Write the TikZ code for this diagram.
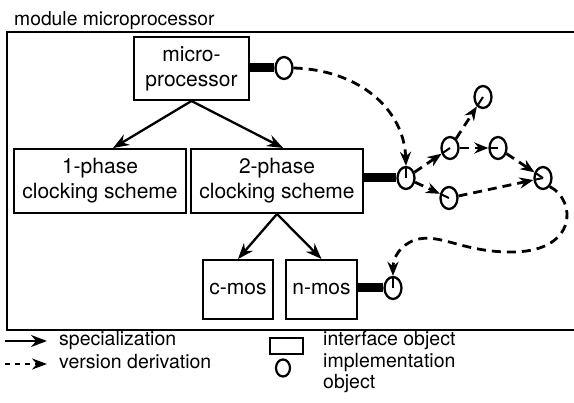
\documentclass[tikz,border=0pt]{standalone}
\usepackage{fontspec}
\setmainfont{TeX Gyre Heros}
\usetikzlibrary{arrows.meta,shapes.geometric,calc}
\begin{document}
\begin{tikzpicture}[x=1pt,y=-1pt,
  box/.style={draw,line width=2pt,rectangle,inner sep=0pt,align=center,
    font=\fontsize{21}{25}\selectfont},
  impl/.style={draw,line width=2.3pt,ellipse,inner sep=0pt,minimum width=17pt,minimum height=22pt},
  spec/.style={line width=2.3pt,-{Stealth[length=16pt,width=12pt]}},
  vers/.style={line width=2.8pt,dash pattern=on 9pt off 6pt,-{Stealth[length=14pt,width=11pt]}},
  stub/.style={line width=2pt},
  bar/.style={line width=9pt},
  lbl/.style={anchor=base west,inner sep=0pt,font=\fontsize{19.5}{22}\selectfont},
  ttl/.style={anchor=base west,inner sep=0pt,font=\fontsize{19.3}{23}\selectfont}]
\useasboundingbox (0,0) rectangle (574,403);
% title and frame
\node[ttl] (title) at (14,26) {module microprocessor};
\draw[line width=2.3pt] (574,32) -- (7,32) -- (7,330) -- (574,330);
% interface objects
\node[box,minimum width=115pt,minimum height=63pt] (micro) at (191.5,68.5) {micro-\\processor};
\node[box,minimum width=172pt,minimum height=64pt] (one) at (100,181) {1-phase\\clocking scheme};
\node[box,minimum width=172pt,minimum height=64pt] (two) at (277,181) {2-phase\\clocking scheme};
\node[box,minimum width=70pt,minimum height=59pt] (cmos) at (238,289.5) {c-mos};
\node[box,minimum width=71pt,minimum height=59pt] (nmos) at (321.5,289.5) {n-mos};
% implementation objects
\node[impl] (A) at (284,68) {};
\node[impl] (B) at (406,178) {};
\node[impl] (C) at (450,148) {};
\node[impl] (D) at (483,97) {};
\node[impl] (E) at (498,148) {};
\node[impl] (F) at (449,198) {};
\node[impl] (G) at (543,178) {};
\node[impl] (H) at (393,288) {};
% bars
\draw[bar] (micro.east |- A) -- (A.west);
\draw[bar] (two.east |- B) -- (B.west);
\draw[bar] (nmos.east |- H) -- (H.west);
% specialization
\draw[spec] (micro.south) -- ($(one.north)!0.15!(one.north east)$);
\draw[spec] (micro.south) -- ($(two.north)!0.07!(two.north east)$);
\draw[spec] (two.south) -- (cmos.north);
\draw[spec] (two.south) -- (nmos.north);
% version derivation
\draw[vers] (A.east) .. controls (360,70) and (404,110) .. (B.north);
\draw[vers] (B) -- (C);
\draw[vers] (C) -- (D);
\draw[vers] (C) -- (E);
\draw[vers] (B) -- (F);
\draw[vers] (F) -- (G);
\draw[vers] (E) -- (G);
\draw[vers] (G.south east) .. controls (576,200) and (578,250) .. (515,252)
  .. controls (462,253) and (440,232) .. (415,240)
  .. controls (400,245) and (393,258) .. (H.north);
% stubs inside target circles
\draw[stub] (B.center) -- (B.north);
\draw[stub] (C.center) -- ($(C.center)!9pt!(B.center)$);
\draw[stub] (D.center) -- ($(D.center)!9pt!(C.center)$);
\draw[stub] (E.center) -- ($(E.center)!8pt!(C.center)$);
\draw[stub] (F.center) -- ($(F.center)!8pt!(B.center)$);
\draw[stub] (G.center) -- ($(G.center)!8pt!(F.center)$);
\draw[stub] (G.center) -- ($(G.center)!9pt!(E.center)$);
\draw[stub] (H.center) -- (H.north);
% legend
\coordinate (s1) at (5,341); \coordinate (s2) at (47,341);
\coordinate (v1) at (5,364); \coordinate (v2) at (47,364);
\draw[spec] (s1) -- (s2);
\draw[line width=2pt,dash pattern=on 5pt off 5pt,-{Stealth[length=15pt,width=11pt]}] (v1) -- (v2);
\node[lbl] (ls) at (59,346) {specialization};
\node[lbl] (lv) at (59,369) {version derivation};
\node[draw,line width=2.2pt,inner sep=0pt,minimum width=33pt,minimum height=16pt] (lr) at (286.5,346) {};
\node[draw,line width=2.2pt,ellipse,inner sep=0pt,minimum width=14pt,minimum height=17pt] (lc) at (283,368) {};
\node[lbl] (li) at (323,346) {interface object};
\node[lbl] (lm) at (323,368) {implementation};
\node[lbl] (lo) at (323,389) {object};
\end{tikzpicture}
\end{document}
